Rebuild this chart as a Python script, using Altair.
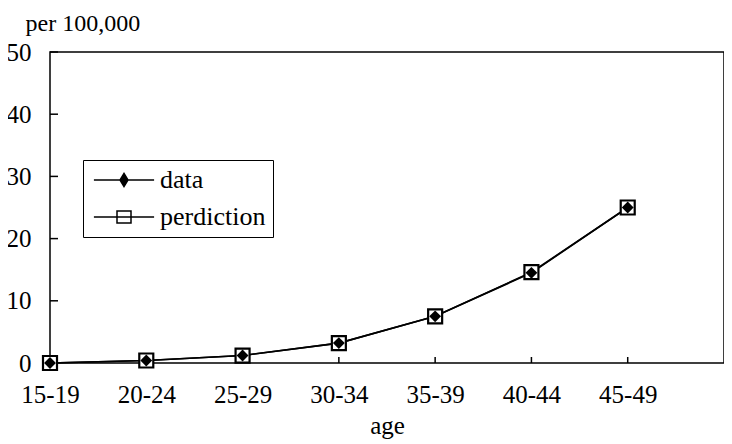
import altair as alt
import pandas as pd

ages = ["15-19", "20-24", "25-29", "30-34", "35-39", "40-44", "45-49"]
data_vals = [0.0, 0.4, 1.2, 3.2, 7.5, 14.5, 25.0]
pred_vals = [0.0, 0.4, 1.2, 3.2, 7.5, 14.6, 25.0]
series = ["data", "perdiction"]
y_ticks = [0, 10, 20, 30, 40, 50]

FONT = "Liberation Serif"
W, H = 674, 311

rows = []
for i, a in enumerate(ages):
    rows.append({"idx": i, "age": a, "series": "data", "v": data_vals[i]})
    rows.append({"idx": i, "age": a, "series": "perdiction", "v": pred_vals[i]})
df = pd.DataFrame(rows)
df_data = df[df.series == "data"]
df_pred = df[df.series == "perdiction"]

label_expr = "[" + ",".join("'%s'" % a for a in ages) + "][datum.value]"

x_enc = alt.X(
    "idx:Q",
    scale=alt.Scale(domain=[0, 7], nice=False, zero=False),
    axis=alt.Axis(
        values=list(range(len(ages))), labelExpr=label_expr, ticks=False, domain=False,
        grid=False, labelFontSize=25, labelPadding=19, labelColor="black", labelFlush=False,
        labelOverlap=False,
        title="age", titleFontSize=25, titleFontWeight="normal", titleColor="black",
        titleBaseline="alphabetic", titleY=70,
    ),
)
y_enc = alt.Y(
    "v:Q",
    scale=alt.Scale(domain=[0, 50], nice=False),
    axis=alt.Axis(
        values=y_ticks, ticks=False, domain=False, grid=False, labelFontSize=25,
        labelPadding=19, labelColor="black", labelFlush=False,
        title="per 100,000", titleAngle=0, titleAlign="left", titleBaseline="alphabetic",
        titleX=-25, titleY=-22, titleFontSize=24, titleFontWeight="normal", titleColor="black",
    ),
)

lines = alt.Chart(df).mark_line(color="black", strokeWidth=1.6).encode(
    x=x_enc, y=y_enc, detail="series:N"
)
squares = alt.Chart(df_pred).mark_point(
    shape="square", size=196, filled=True, fill="white", stroke="black", strokeWidth=2.2, opacity=1
).encode(x="idx:Q", y="v:Q")
diamonds = alt.Chart(df_data).mark_point(
    shape="diamond", size=140, filled=True, fill="black", opacity=1
).encode(x="idx:Q", y="v:Q")

# inward ticks
ytick_df = pd.DataFrame({"v": y_ticks})
yticks = alt.Chart(ytick_df).mark_rule(color="black", strokeWidth=1.5).encode(
    y="v:Q", x=alt.value(0), x2=alt.value(8)
)
xtick_df = pd.DataFrame({"idx": list(range(len(ages)))})
xticks = alt.Chart(xtick_df).mark_rule(color="black", strokeWidth=1.5).encode(
    x="idx:Q", y=alt.value(H), y2=alt.value(H - 6)
)

path_data = "M-4.3,0H4.3M0,-0.93L0.57,0L0,0.93L-0.57,0Z"
path_pred = "M-4.3,0H4.3M-1,-0.86H1V0.86H-1Z"
leg = alt.Legend(
    title=None, orient="none", legendX=33, legendY=108, padding=7,
    strokeColor="black", fillColor="white", labelFontSize=26, labelColor="black",
    labelFont=FONT, symbolSize=196, symbolStrokeWidth=1.5,
    symbolOffset=21, labelOffset=23, rowPadding=11, labelLimit=400,
)
legend_layer = alt.Chart(df).transform_filter("false").mark_point(
    filled=True, opacity=1, strokeWidth=1.5, size=196
).encode(
    shape=alt.Shape("series:N", scale=alt.Scale(domain=series, range=[path_data, path_pred]), legend=leg),
    fill=alt.Fill("series:N", scale=alt.Scale(domain=series, range=["black", "transparent"]), legend=leg),
    stroke=alt.Stroke("series:N", scale=alt.Scale(domain=series, range=["black", "black"]), legend=leg),
)

chart = alt.layer(lines, xticks, yticks, squares, diamonds, legend_layer).properties(
    width=W, height=H, autosize="none",
    padding={"left": 42, "top": 44, "right": 0, "bottom": 81},
).configure(font=FONT).configure_view(stroke="black", strokeWidth=1.5)

chart.save("out.html", embed_options={"renderer": "svg", "actions": False})
